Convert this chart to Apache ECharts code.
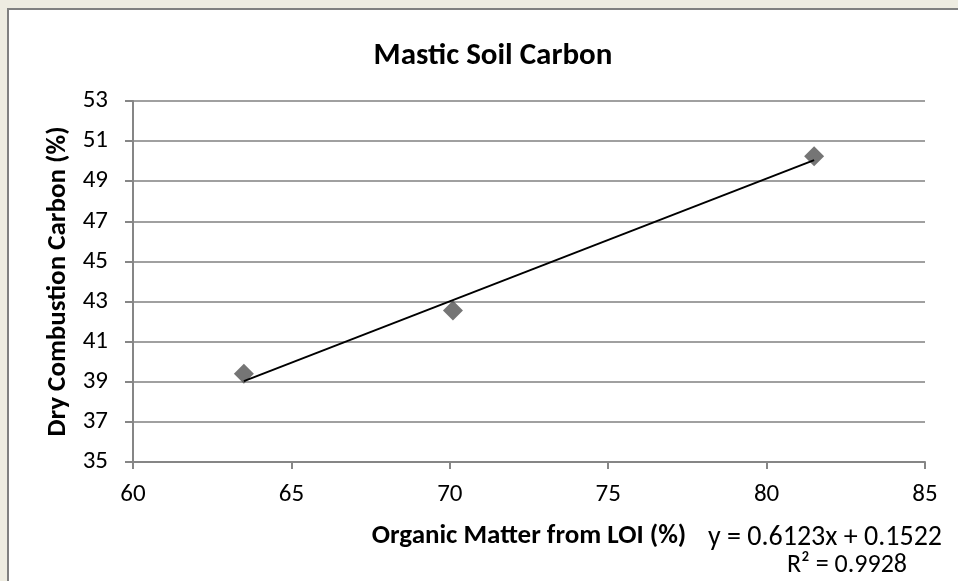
<!DOCTYPE html>
<html>
<head>
<meta charset="utf-8">
<script src="https://cdn.jsdelivr.net/npm/echarts@6/dist/echarts.min.js"></script>
<style>
  html, body { margin: 0; padding: 0; background: #EEECE1; }
  #frame { position: absolute; left: 7px; top: 8px; width: 951px; height: 573px;
           background: #ffffff; border-left: 2px solid #808080; border-top: 2px solid #808080; box-sizing: border-box; }
  #chart { position: absolute; left: 0; top: 0; width: 958px; height: 581px; }
</style>
</head>
<body>
<div id="frame"></div>
<div id="chart"></div>
<script>
// Organic matter (LOI, %) vs dry combustion carbon (%)
const organicMatter = [63.5, 70.1, 81.5];
const dryCarbon = [39.4, 42.55, 50.25];

// Linear trendline reported on the chart
const slope = 0.6123;
const intercept = 0.1522;
const rSquared = 0.9928;

const xTicks = { min: 60, max: 85, interval: 5 };
const yTicks = { min: 35, max: 53, interval: 2 };

const FONT = 'Carlito, Lato, "Open Sans", sans-serif';

const points = organicMatter.map((x, i) => [x, dryCarbon[i]]);
const xStart = Math.min(...organicMatter);
const xEnd = Math.max(...organicMatter);
const trend = [xStart, xEnd].map(x => [x, slope * x + intercept]);

const chart = echarts.init(document.getElementById('chart'));
chart.setOption({
  backgroundColor: 'transparent',
  animation: false,
  title: {
    text: 'Mastic Soil Carbon',
    left: 488, top: 36, textAlign: 'center',
    textStyle: { fontFamily: FONT, fontWeight: 'bold', fontSize: 31, color: '#000' }
  },
  grid: { left: 133, right: 33, top: 101, bottom: 119 },
  xAxis: {
    type: 'value', min: xTicks.min, max: xTicks.max, interval: xTicks.interval,
    name: 'Organic Matter from LOI (%)', nameLocation: 'middle', nameGap: 61,
    nameTextStyle: { fontFamily: FONT, fontWeight: 'bold', fontSize: 27, color: '#000' },
    axisLine: { show: true, lineStyle: { color: '#868686', width: 2 } },
    axisTick: { show: true, length: 7, lineStyle: { color: '#868686', width: 2 } },
    axisLabel: { fontFamily: FONT, fontSize: 25, color: '#000', margin: 20 },
    splitLine: { show: false }
  },
  yAxis: {
    type: 'value', min: yTicks.min, max: yTicks.max, interval: yTicks.interval,
    name: 'Dry Combustion Carbon (%)', nameLocation: 'middle', nameGap: 57,
    nameTextStyle: { fontFamily: FONT, fontWeight: 'bold', fontSize: 27, color: '#000' },
    axisLine: { show: true, lineStyle: { color: '#868686', width: 2 } },
    axisTick: { show: true, length: 8, lineStyle: { color: '#868686', width: 2 } },
    axisLabel: { fontFamily: FONT, fontSize: 25, color: '#000', margin: 25 },
    splitLine: { show: true, lineStyle: { color: '#A0A0A0', width: 2 } }
  },
  series: [
    {
      type: 'line', data: trend, symbol: 'none', z: 3,
      lineStyle: { color: '#000', width: 2 }
    },
    {
      type: 'scatter', data: points, symbol: 'diamond', symbolSize: 20, z: 2,
      itemStyle: { color: '#525252' }
    }
  ],
  graphic: [
    {
      type: 'text', x: 708, y: 538,
      style: { text: 'y = ' + slope + 'x + ' + intercept, font: '28px ' + FONT, fill: '#000',
               align: 'left', verticalAlign: 'middle' }
    },
    {
      type: 'text', x: 787, y: 565,
      style: { text: 'R² = ' + rSquared, font: '26px ' + FONT, fill: '#000',
               align: 'left', verticalAlign: 'middle' }
    }
  ]
});
</script>
</body>
</html>
